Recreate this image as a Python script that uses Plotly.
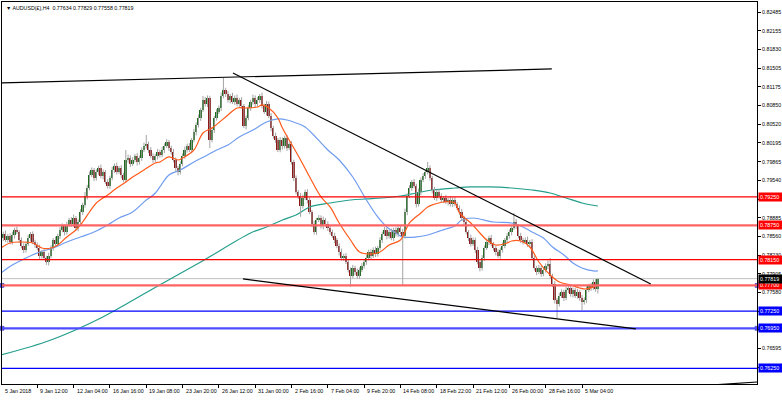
import plotly.graph_objects as go

# ---------------- data (prices in 1e-5 units) ----------------
SCALE = 1e5
FIRST_OPEN = 78560
CLOSE = [
    78530,78600,78495,78565,78460,78583,78670,78635,78495,78390,78320,78425,78530,78600,78460,78408,
    78355,78215,78285,78180,78110,78215,78355,78495,78425,78565,78670,78740,78635,78758,78845,78775,
    78880,78705,78810,78985,79108,79265,79405,79633,79720,79580,79685,79755,79615,79685,79510,79440,
    79580,79720,79790,79685,79755,79633,79545,79895,79930,79825,79895,79965,79860,79930,80070,80140,
    80175,80070,79965,79895,79965,80035,79983,80070,80140,80210,80105,80035,79895,79755,79685,79825,
    79965,80070,80140,80070,80245,80385,80508,80630,80770,80945,80875,80980,80245,80420,80630,80735,
    80805,81015,81120,81050,80945,81015,80910,80980,80875,80945,80840,80490,80630,80805,80910,80980,
    80875,80945,81015,80840,80735,80875,80665,80455,80315,80245,80070,80245,80140,80280,80105,80175,
    79860,79580,79335,79265,79090,79230,79335,79195,78985,78775,78635,78845,78880,78740,78845,78775,
    78705,78635,78565,78495,78390,78285,78180,78215,78110,77970,77865,78005,77935,77865,77970,78040,
    78110,78180,78285,78215,78320,78250,78355,78495,78600,78670,78565,78635,78530,78670,78600,78705,
    78635,78565,78985,79265,79405,79510,79440,79125,79335,79545,79615,79685,79755,79580,79370,79230,
    79335,79265,79195,79230,79160,79195,79125,79195,79125,79055,78985,78880,78810,78635,78530,78425,
    78495,78320,78110,78005,78180,78355,78460,78530,78425,78355,78285,78215,78320,78390,78495,78565,
    78635,78705,78810,78740,78565,78495,78460,78495,78425,78460,78180,78005,77935,78005,77900,77970,
    78040,78075,77865,77725,77445,77375,77515,77585,77480,77620,77655,77550,77620,77515,77585,77480,
    77410,77445,77620,77690,77655,77760,77634,77819,
]
UPPER_WICK = [
    50,40,60,35,45,55,40,60,35,45,50,40,55,35,45,40,
    45,60,35,50,40,55,45,35,60,40,50,45,35,55,40,50,
    60,35,45,50,40,70,55,60,45,35,50,40,60,45,35,50,
    40,55,45,60,35,50,40,175,60,45,50,35,55,40,45,60,
    158,40,50,45,35,55,40,60,45,50,35,40,55,45,35,50,
    45,60,40,50,35,55,45,60,40,70,50,45,40,55,35,50,
    45,60,210,40,50,35,55,45,60,40,50,35,45,55,40,60,
    45,50,35,60,40,55,45,50,40,60,35,50,45,40,55,35,
    50,40,45,35,55,60,40,50,45,35,55,40,50,45,60,35,
    45,50,40,55,35,45,60,40,50,35,45,55,40,60,45,50,
    35,55,40,50,45,60,35,50,40,55,45,35,60,40,50,45,
    40,55,60,45,50,35,55,40,60,45,50,40,105,45,35,55,
    40,50,45,35,55,40,60,45,50,35,45,55,40,50,35,60,
    45,40,55,35,50,45,60,40,55,35,45,50,40,60,35,50,
    45,40,158,50,35,55,40,45,60,35,50,45,40,55,35,50,
    45,60,105,40,50,35,55,45,40,60,35,50,45,40,55,35,
    50,45,60,40,55,45,50,10,
]
LOWER_WICK = [
    45,55,35,50,40,45,60,35,50,40,55,45,35,60,40,50,
    40,55,45,35,50,60,40,45,55,35,50,40,60,45,35,50,
    45,40,55,35,50,45,60,40,35,55,45,50,40,60,35,45,
    50,40,55,45,35,60,40,50,45,55,35,40,60,45,50,35,
    45,55,40,50,35,60,45,40,55,35,50,45,40,60,60,45,
    40,50,45,35,55,40,60,45,50,35,45,55,140,40,50,45,
    35,55,40,50,45,60,35,50,40,55,45,35,60,40,50,45,
    55,40,50,45,35,60,40,55,45,50,35,40,60,45,50,35,
    45,55,40,50,190,45,35,60,40,55,45,50,35,45,60,40,
    50,45,35,55,40,60,45,50,35,45,190,40,55,45,50,35,
    45,50,40,60,35,55,45,40,50,35,60,45,40,55,45,50,
    40,858,45,55,35,50,40,60,45,55,35,50,40,45,60,35,
    50,45,40,55,35,60,45,50,40,35,55,45,60,40,50,45,
    35,55,40,60,45,50,35,55,40,45,60,35,50,45,40,55,
    45,60,35,50,40,55,45,35,50,60,40,45,55,35,50,40,
    45,55,40,50,60,245,45,35,55,40,50,45,60,35,45,50,
    140,45,55,40,50,35,45,76,
]

# moving averages (bar index, price*1e5)
MA_FAST_IDX = [0,4,8,14,18,22,25,29,33,36,39,42,47,51,55,58,63,68,70,74,78,80,85,89,93,100,104,108,113,115,118,122,124,129,132,136,141,145,149,154,158,163,167,171,176,180,185,188,190,195,200,202,207,211,214,218,223,225,229,233,237,242,246,251,255,258,261,263]
MA_FAST_VAL = [78355,78442,78460,78442,78355,78355,78408,78548,78670,78810,78985,79143,79283,79405,79510,79598,79720,79843,79860,79948,79895,79930,80070,80368,80455,80683,80805,80805,80823,80858,80805,80630,80455,80105,79895,79598,79248,79073,78793,78495,78285,78250,78285,78408,78495,78793,78968,79073,79108,79160,79143,78968,78793,78618,78495,78408,78443,78478,78478,78373,78110,77883,77760,77708,77655,77638,77673,77708]
MA_MID_IDX = [0,5,11,17,23,29,35,41,47,52,58,64,66,68,70,74,79,85,91,95,100,105,111,117,122,126,130,134,144,149,155,161,166,170,174,177,183,188,192,196,200,203,208,217,225,230,234,239,243,248,252,256,261,263]
MA_MID_VAL = [77918,78058,78180,78285,78355,78460,78548,78635,78758,78880,78985,79195,79248,79318,79423,79633,79720,79860,79983,80070,80158,80298,80420,80560,80613,80595,80543,80473,80070,79895,79598,79195,78898,78723,78618,78548,78548,78583,78635,78688,78740,78845,78880,78810,78793,78723,78635,78530,78373,78233,78093,78005,77953,77953]
MA_SLOW_IDX = [0,22,44,66,88,110,117,124,130,136,145,154,161,168,176,183,190,200,207,215,225,234,242,249,256,263]
MA_SLOW_VAL = [76483,76745,77130,77620,78110,78618,78723,78845,78933,79073,79143,79195,79213,79230,79265,79318,79370,79405,79423,79423,79405,79370,79318,79230,79143,79090]

# horizontal levels
RED_LEVELS = [0.79250, 0.78750, 0.78150, 0.77700]
RED_STYLE_WIDE = [False, True, False, True]
BLUE_LEVELS = [0.77250, 0.76950, 0.76250]
BLUE_STYLE_WIDE = [False, True, False]
SELECTED_LEVELS = [0.77700, 0.76950]
LAST_PRICE = 0.77819

# trend lines: (idx0, price0, idx1, price1)
TRENDLINES = [
    (0.44, 0.81243, 242.7, 0.81488),
    (102.2, 0.81418, 286.3, 0.77725),
    (106.6, 0.77813, 279.7, 0.76938),
    (293.4, 0.75905, 333.1, 0.76010),
]

# axis labels
PRICE_TICKS = [0.82485,0.82155,0.81830,0.81505,0.81175,0.80850,0.80520,0.80195,0.79865,0.79540,
               0.79210,0.78885,0.78560,0.78230,0.77905,0.77580,0.77250,0.76925,0.76595,0.76270]
HIDDEN_TICKS = [0.79210, 0.77250, 0.76925, 0.76270]   # covered by level boxes
BOTTOM_TICK = 0.75940
TIME_IDX = [0,16,32,48,64,80,96,112,128,144,160,176,192,208,224,240,256]
TIME_LABELS = ["5 Jan 2018","9 Jan 12:00","12 Jan 04:00","16 Jan 16:00","19 Jan 08:00",
               "23 Jan 20:00","26 Jan 12:00","31 Jan 00:00","2 Feb 16:00","7 Feb 04:00",
               "9 Feb 20:00","14 Feb 08:00","18 Feb 22:00","21 Feb 12:00","26 Feb 00:00",
               "28 Feb 16:00","5 Mar 04:00"]
TITLE = "AUDUSD(£),H4  0.77634 0.77829 0.77558 0.77819"

# ---------------- build ----------------
close = [c / SCALE for c in CLOSE]
opn = [FIRST_OPEN / SCALE] + close[:-1]
high = [max(o, c) + u / SCALE for o, c, u in zip(opn, close, UPPER_WICK)]
low = [min(o, c) - l / SCALE for o, c, l in zip(opn, close, LOWER_WICK)]
idx = list(range(len(close)))

X_RANGE = [0.44, 333.1]
Y_RANGE = [0.75975, 0.82660]
FONT = "Liberation Sans"
FS = 5.3

# wick segments
wx, wy = [], []
for i, h, l in zip(idx, high, low):
    wx += [i, i, None]
    wy += [l, h, None]
body_base = [min(o, c) for o, c in zip(opn, close)]
body_h = [max(abs(c - o), 0.00002) for o, c in zip(opn, close)]
body_col = ["#1c6b1c" if c >= o else "#8e1616" for o, c in zip(opn, close)]

fig = go.Figure()
fig.add_trace(go.Scatter(x=MA_SLOW_IDX, y=[v / SCALE for v in MA_SLOW_VAL], mode="lines",
                         line=dict(color="#239e8c", width=1.2, shape="spline"), hoverinfo="skip"))
fig.add_trace(go.Scatter(x=MA_MID_IDX, y=[v / SCALE for v in MA_MID_VAL], mode="lines",
                         line=dict(color="#6f9cf0", width=1.2, shape="spline"), hoverinfo="skip"))
fig.add_trace(go.Scatter(x=wx, y=wy, mode="lines", line=dict(color="#a3a3a3", width=1),
                         hoverinfo="skip", connectgaps=False))
fig.add_trace(go.Bar(x=idx, y=body_h, base=body_base, width=0.8,
                     marker=dict(color=body_col, line=dict(width=0))))
fig.add_trace(go.Scatter(x=MA_FAST_IDX, y=[v / SCALE for v in MA_FAST_VAL], mode="lines",
                         line=dict(color="#ff5a1a", width=1.2, shape="spline"), hoverinfo="skip"))
# selection handles of the selected horizontal lines
hx, hy = [], []
for lv in SELECTED_LEVELS:
    hx += [X_RANGE[0], X_RANGE[1]]
    hy += [lv, lv]
fig.add_trace(go.Scatter(x=hx, y=hy, mode="markers", cliponaxis=False, hoverinfo="skip",
                         marker=dict(symbol="square", size=4, color="#5a5aff",
                                     line=dict(color="#2a2aa0", width=0.5))))

shapes = []
for lv, wide in zip(RED_LEVELS, RED_STYLE_WIDE):
    shapes.append(dict(type="line", xref="paper", yref="y", x0=0, x1=1, y0=lv, y1=lv,
                       line=dict(color="#ff6464" if wide else "#ff0000", width=2.2 if wide else 1.2)))
for lv, wide in zip(BLUE_LEVELS, BLUE_STYLE_WIDE):
    shapes.append(dict(type="line", xref="paper", yref="y", x0=0, x1=1, y0=lv, y1=lv,
                       line=dict(color="#4d4dff" if wide else "#0000ff", width=2.2 if wide else 1.2)))
shapes.append(dict(type="line", xref="paper", yref="y", x0=0, x1=1, y0=LAST_PRICE, y1=LAST_PRICE,
                   line=dict(color="#c0c0c0", width=1), layer="below"))
for (a0, p0, a1, p1) in TRENDLINES:
    shapes.append(dict(type="line", xref="x", yref="y", x0=a0, y0=p0, x1=a1, y1=p1,
                       line=dict(color="#000000", width=1.2)))

annotations = []
def box(lv, col):
    return dict(x=1, xref="paper", xanchor="left", xshift=1, y=lv, yref="y",
                text=f"{lv:.5f}", showarrow=False, bgcolor=col, width=21, align="left",
                font=dict(family=FONT, size=FS, color="white"), borderpad=1)
for lv in RED_LEVELS:
    annotations.append(box(lv, "#ff0000"))
for lv in BLUE_LEVELS:
    annotations.append(box(lv, "#0000ff"))
annotations.append(box(LAST_PRICE, "#000000"))
annotations.append(dict(x=1, xref="paper", xanchor="left", xshift=4, y=BOTTOM_TICK, yref="y",
                        text=f"{BOTTOM_TICK:.5f}", showarrow=False,
                        font=dict(family=FONT, size=FS, color="black")))
x_span = X_RANGE[1] - X_RANGE[0]
for ti, tl in zip(TIME_IDX, TIME_LABELS):
    annotations.append(dict(x=max((ti - X_RANGE[0]) / x_span, 0), xref="paper", xanchor="left",
                            xshift=1, y=0, yref="paper",
                            yanchor="top", yshift=-2, text=tl, showarrow=False,
                            font=dict(family=FONT, size=FS, color="black")))
annotations.append(dict(x=0, xref="paper", xanchor="left", xshift=2, y=1, yref="paper",
                        yanchor="top", yshift=-1, text="▼ " + TITLE, showarrow=False,
                        font=dict(family=FONT, size=FS, color="black")))

fig.update_layout(
    template="none",
    width=782, height=400,
    margin=dict(l=2, r=25, t=2, b=16, pad=0, autoexpand=False),
    paper_bgcolor="white", plot_bgcolor="white",
    showlegend=False, bargap=0,
    shapes=shapes, annotations=annotations,
    xaxis=dict(range=X_RANGE, rangeslider=dict(visible=False), showgrid=False, automargin=False,
               zeroline=False, tickvals=TIME_IDX, showticklabels=False, ticks="outside",
               ticklen=3, tickcolor="black", showline=True, linecolor="#000000",
               mirror=True, linewidth=1),
    yaxis=dict(range=Y_RANGE, side="right", showgrid=False, zeroline=False, automargin=False,
               tickvals=PRICE_TICKS,
               ticktext=["" if p in HIDDEN_TICKS else f"{p:.5f}" for p in PRICE_TICKS],
               ticks="outside", ticklen=3, tickcolor="black",
               tickfont=dict(family=FONT, size=FS, color="black"),
               showline=True, linecolor="#000000", mirror=True, linewidth=1),
)

fig.write_html("out.html", config={"displayModeBar": False},
               post_script="document.body.style.margin='0';document.body.style.padding='0';")
